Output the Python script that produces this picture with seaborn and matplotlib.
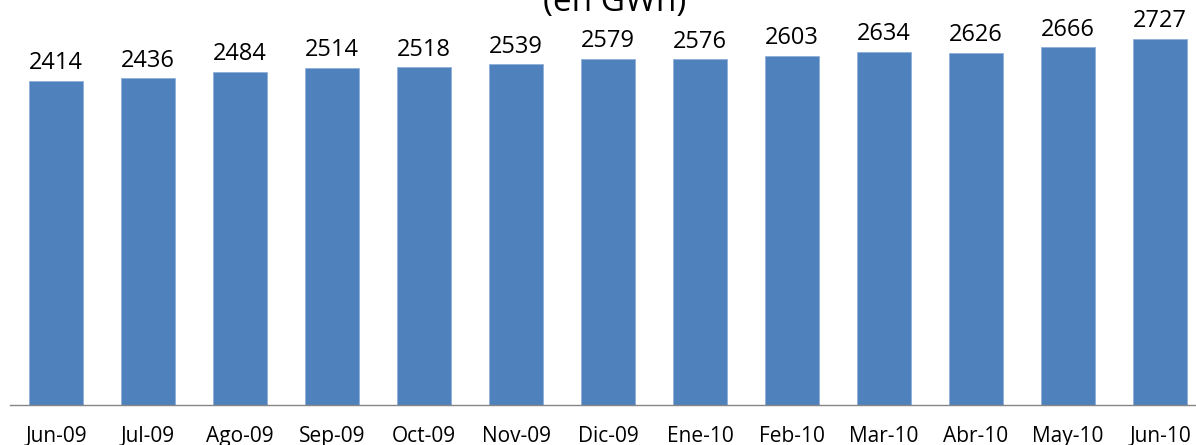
#!/usr/bin/env python3
"""Monthly energy bar chart (en GWh), Jun-09 to Jun-10."""
import matplotlib

matplotlib.use("Agg")
import matplotlib.pyplot as plt  # noqa: E402
import pandas as pd  # noqa: E402
import seaborn as sns  # noqa: E402

months = ["Jun-09", "Jul-09", "Ago-09", "Sep-09", "Oct-09", "Nov-09", "Dic-09",
          "Ene-10", "Feb-10", "Mar-10", "Abr-10", "May-10", "Jun-10"]
energy_gwh = [2414, 2436, 2484, 2514, 2518, 2539, 2579,
              2576, 2603, 2634, 2626, 2666, 2727]
title = "(en GWh)"

BAR_COLOUR = "#4F81BD"

sns.set_theme(style="white")
plt.rcParams["font.family"] = ["Open Sans", "DejaVu Sans"]

df = pd.DataFrame({"month": months, "gwh": energy_gwh})

fig = plt.figure(figsize=(11.96, 4.45), dpi=100)
# axes runs a little past the right edge, like the cropped original
ax = fig.add_axes([10 / 1196, 40 / 445, 1196 / 1196, 402.6 / 445])
sns.barplot(data=df, x="month", y="gwh", color=BAR_COLOUR, width=0.58,
            saturation=1, edgecolor="#8FB0DA", linewidth=0.6, ax=ax)
ax.set_ylim(0, 3000)
ax.set_xlim(-0.5, len(months) - 0.5)

for i, v in enumerate(energy_gwh):
    ax.annotate(str(v), (i, v), xytext=(0, 4), textcoords="offset points",
                ha="center", va="bottom", fontsize=17, color="black")

for side in ("top", "right", "left"):
    ax.spines[side].set_visible(False)
ax.spines["bottom"].set_color("#868686")
ax.spines["bottom"].set_linewidth(1.0)
ax.set_yticks([])
ax.set_xlabel("")
ax.set_ylabel("")
ax.tick_params(axis="x", length=0, pad=15, labelsize=15, colors="black")

fig.text(615 / 1196, 1 - 11 / 445, title, ha="center", va="baseline",
         fontsize=24, color="black")

fig.savefig("out.png", dpi=100)
plt.close(fig)
